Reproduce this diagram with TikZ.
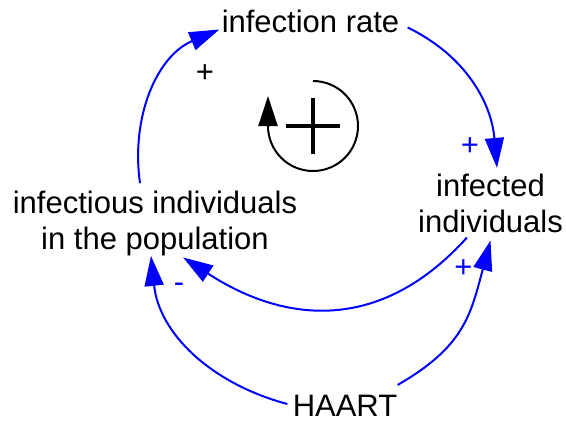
\documentclass[tikz,border=0pt]{standalone}
\usepackage{fontspec}
\setmainfont{Liberation Sans}
\usetikzlibrary{arrows.meta,calc}

\begin{document}
\begin{tikzpicture}[x=0.5pt,y=0.5pt,
  var/.style={align=center,inner sep=0pt,font=\fontsize{15.5pt}{18pt}\selectfont},
  link/.style={blue,line width=1pt,-{Triangle[length=15pt,width=9.5pt]}},
  sign/.style={anchor=base,inner sep=0pt,font=\fontsize{15.5pt}{18pt}\selectfont}]
  \useasboundingbox (0,0) rectangle (566,-424);
  \node (rate) [var] at (310.5,-21.7) {infection rate};
  \node (infected) [var] at (490.5,-203.7) {infected\\individuals};
  \node (infectious) [var] at (155,-223) {infectious individuals\\in the population};
  \node (haart) [var] at (345,-406) {HAART};
  \draw[link] ([shift={(-15,7)}]infectious.north) to[out=98,in=203] ([shift={(-2,4)}]rate.south west);
  \draw[link] ([shift={(8,6)}]rate.south east) to[out=-26,in=95] ([shift={(6.5,6)}]infected.north);
  \draw[link] ([shift={(-23.5,-4)}]infected.south) to[out=228,in=327,looseness=1.13] ([shift={(28,-1.5)}]infectious.south);
  \draw[link] ([shift={(-5,2)}]haart.west) to[out=165,in=276] ([shift={(-4,0)}]infectious.south);
  \draw[link] ([shift={(0,10)}]haart.north east) to[out=30,in=255,looseness=1.15] ([shift={(0,-7)}]infected.south);
  \node (pA) [sign] at (205,-82) {+};
  \node (pB) [sign,blue] at (470,-155.4) {+};
  \node (pC) [sign,blue] at (463.5,-277.4) {+};
  \node (mA) [sign,blue] at (179,-292) {-};
  % loop symbol
  \coordinate (loopc) at (313,-126);
  \draw[line width=1pt,-{Triangle[length=15pt,width=9.5pt]}] ($(loopc)+(90:45)$) arc[start angle=90,end angle=-180,radius=45] -- ++(0,30);
  \draw[line width=1.7pt] ($(loopc)+(-27,0)$) -- ($(loopc)+(27,0)$);
  \draw[line width=1.7pt] ($(loopc)+(0,-28)$) -- ($(loopc)+(0,28)$);
\end{tikzpicture}
\end{document}
